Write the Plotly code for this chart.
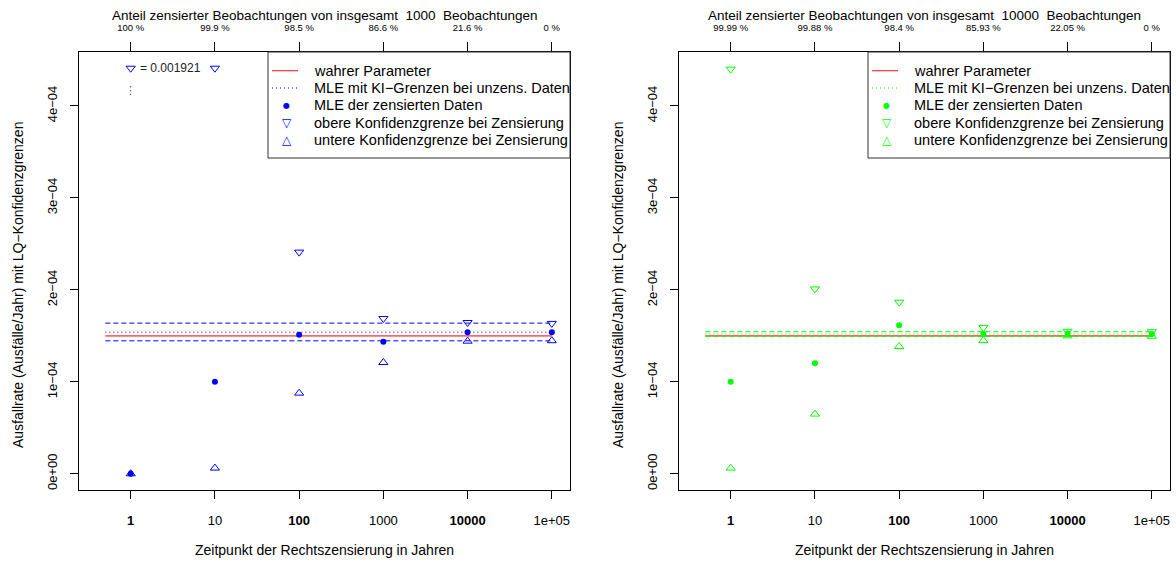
import math
import plotly.graph_objects as go

W, H = 1176, 563

# ---------------- data ----------------
zeitpunkte = [1, 10, 100, 1000, 10000, 100000]
x_ticktext = ["<b>1</b>", "10", "<b>100</b>", "1000", "<b>10000</b>", "1e+05"]
y_tickvals = [0, 1e-4, 2e-4, 3e-4, 4e-4]
y_ticktext = ["0e+00", "1e\u221204", "2e\u221204", "3e\u221204", "4e\u221204"]

n_beob = [1000, 10000]
anteil_1000 = ["100 %", "99.9 %", "98.5 %", "86.6 %", "21.6 %", "0 %"]
anteil_10000 = ["99.99 %", "99.88 %", "98.4 %", "85.93 %", "22.05 %", "0 %"]

mle_1000 = [0.0, 1.00e-4, 1.511e-4, 1.435e-4, 1.54e-4, 1.54e-4]
obere_1000 = [0.001921, 4.41e-4, 2.41e-4, 1.688e-4, 1.645e-4, 1.635e-4]
untere_1000 = [0.0, 6.2e-6, 0.877e-4, 1.21e-4, 1.442e-4, 1.447e-4]
ki_unzens_1000 = [1.446e-4, 1.54e-4, 1.638e-4]  # untere, MLE, obere

mle_10000 = [1.0e-4, 1.203e-4, 1.616e-4, 1.52e-4, 1.525e-4, 1.52e-4]
obere_10000 = [4.40e-4, 2.01e-4, 1.866e-4, 1.59e-4, 1.55e-4, 1.545e-4]
untere_10000 = [6.2e-6, 0.649e-4, 1.384e-4, 1.449e-4, 1.50e-4, 1.495e-4]
ki_unzens_10000 = [1.495e-4, 1.52e-4, 1.545e-4]

wahrer_parameter = 1.5e-4
linien_x = [0.5, 100000]
x_lim = [0.4, 100000]
y_lim = [0.0, 4.41e-4]

legend_texte = ["wahrer Parameter", "MLE mit KI\u2212Grenzen bei unzens. Daten",
                "MLE der zensierten Daten", "obere Konfidenzgrenze bei Zensierung",
                "untere Konfidenzgrenze bei Zensierung"]

# ---------------- styling / layout constants ----------------
farben = ["#0000FF", "#00FF00"]
FONT = "Liberation Sans, Arial, Helvetica, sans-serif"
plot_left = [79, 679]
plot_right = [570, 1170]
plot_top, plot_bottom = 52, 490
legend_left = [268, 868]
legend_bottom = 158

panels = [
    dict(anteil=anteil_1000, mle=mle_1000, obere=obere_1000, untere=untere_1000, ki=ki_unzens_1000),
    dict(anteil=anteil_10000, mle=mle_10000, obere=obere_10000, untere=untere_10000, ki=ki_unzens_10000),
]

lx0, lx1 = math.log10(x_lim[0]), math.log10(x_lim[1])
dx = 0.04 * (lx1 - lx0)
x_range = [lx0 - dx, lx1 + dx]
dy = 0.04 * (y_lim[1] - y_lim[0])
y_range = [y_lim[0] - dy, y_lim[1] + dy]


def px(p):
    return p / W


def py(p):
    return 1 - p / H


fig = go.Figure()
shapes = []
annotations = []
layout_axes = {}

for i, pdat in enumerate(panels):
    sfx = "" if i == 0 else "2"
    xa, ya = "x" + sfx, "y" + sfx
    xt = "x3" if i == 0 else "x4"
    col = farben[i]
    common = dict(xaxis=xa, yaxis=ya, showlegend=False, hoverinfo="skip")

    fig.add_trace(go.Scatter(x=linien_x, y=[wahrer_parameter] * 2, mode="lines",
                             line=dict(color="rgba(255,0,0,0.6)", width=1.8), **common))
    lo, mid, hi = pdat["ki"]
    fig.add_trace(go.Scatter(x=linien_x, y=[mid] * 2, mode="lines",
                             line=dict(color=col, width=1, dash="1px,3px"), **common))
    for v in (hi, lo):
        fig.add_trace(go.Scatter(x=linien_x, y=[v] * 2, mode="lines",
                                 line=dict(color=col, width=1, dash="5px,3px"), **common))

    fig.add_trace(go.Scatter(x=zeitpunkte, y=pdat["mle"], mode="markers",
                             marker=dict(symbol="circle", size=6, color=col), **common))
    obere_disp = [min(v, y_lim[1]) for v in pdat["obere"]]
    fig.add_trace(go.Scatter(x=zeitpunkte, y=obere_disp, mode="markers",
                             marker=dict(symbol="triangle-down-open", size=8, color=col,
                                         line=dict(color=col, width=1)), **common))
    fig.add_trace(go.Scatter(x=zeitpunkte, y=pdat["untere"], mode="markers",
                             marker=dict(symbol="triangle-up-open", size=8, color=col,
                                         line=dict(color=col, width=1)), **common))
    # invisible trace to activate the top axis
    fig.add_trace(go.Scatter(x=zeitpunkte, y=[y_lim[0]] * len(zeitpunkte), mode="markers",
                             marker=dict(opacity=0), xaxis=xt, yaxis=ya,
                             showlegend=False, hoverinfo="skip"))

    # off-scale value annotation
    for j, v in enumerate(pdat["obere"]):
        if v > y_lim[1]:
            annotations.append(dict(x=math.log10(zeitpunkte[j]), y=y_lim[1], xref=xa, yref=ya,
                                    text="= " + str(v), showarrow=False, xanchor="left",
                                    yanchor="middle", xshift=7,
                                    font=dict(family=FONT, size=12, color="#222")))
            annotations.append(dict(x=math.log10(zeitpunkte[j]), y=y_lim[1], xref=xa, yref=ya,
                                    text="\u22ee", showarrow=False, xanchor="center",
                                    yanchor="middle", yshift=-22,
                                    font=dict(family="DejaVu Sans", size=11, color="#555")))

    dom = [px(plot_left[i]), px(plot_right[i])]
    layout_axes["xaxis" + sfx] = dict(
        domain=dom, anchor=ya, type="log", range=x_range, tickmode="array",
        tickvals=zeitpunkte, ticktext=x_ticktext, showgrid=False, zeroline=False,
        showline=True, linecolor="black", linewidth=1, mirror=True,
        ticks="outside", ticklen=8, tickcolor="black", tickwidth=1,
        tickfont=dict(family=FONT, size=13, color="black"), ticklabelstandoff=10)
    layout_axes["xaxis" + ("3" if i == 0 else "4")] = dict(
        overlaying=xa, anchor=ya, side="top", type="log", range=x_range, tickmode="array",
        tickvals=zeitpunkte, ticktext=pdat["anteil"], showgrid=False, zeroline=False,
        showline=False, ticks="outside", ticklen=9, tickcolor="black", tickwidth=1,
        tickfont=dict(family=FONT, size=9.5, color="black"), ticklabelstandoff=7)
    layout_axes["yaxis" + sfx] = dict(
        domain=[py(plot_bottom), py(plot_top)], anchor=xa, range=y_range, tickmode="array",
        tickvals=y_tickvals, ticktext=y_ticktext, tickangle=-90, showgrid=False,
        zeroline=False, showline=True, linecolor="black", linewidth=1, mirror=True,
        ticks="outside", ticklen=8, tickcolor="black", tickwidth=1,
        tickfont=dict(family=FONT, size=13, color="black"), ticklabelstandoff=8)

    cx = (plot_left[i] + plot_right[i]) / 2
    annotations.append(dict(x=px(cx), y=py(550), xref="paper", yref="paper",
                            text="Zeitpunkt der Rechtszensierung in Jahren", showarrow=False,
                            xanchor="center", yanchor="middle",
                            font=dict(family=FONT, size=14, color="black")))
    annotations.append(dict(x=px(cx), y=py(16), xref="paper", yref="paper",
                            text="Anteil zensierter Beobachtungen von insgesamt\u00a0 %d\u00a0 Beobachtungen" % n_beob[i],
                            showarrow=False, xanchor="center", yanchor="middle",
                            font=dict(family=FONT, size=13.5, color="black")))
    annotations.append(dict(x=px(plot_left[i] - 61), y=py(285),
                            xref="paper", yref="paper",
                            text="Ausfallrate (Ausfälle/Jahr) mit LQ\u2212Konfidenzgrenzen",
                            showarrow=False, textangle=-90, xanchor="center", yanchor="middle",
                            font=dict(family=FONT, size=14, color="black")))

    # ---- legend (drawn manually, R style) ----
    L, R = legend_left[i], plot_right[i]
    shapes.append(dict(type="rect", xref="paper", yref="paper", x0=px(L), x1=px(R),
                       y0=py(legend_bottom), y1=py(plot_top), line=dict(color="#333", width=1),
                       fillcolor="white", layer="above"))
    rows = [70.7 + k * 17.3 for k in range(5)]
    shapes.append(dict(type="line", xref="paper", yref="paper", x0=px(L + 4), x1=px(L + 30),
                       y0=py(rows[0]), y1=py(rows[0]), line=dict(color="#FF3333", width=1.2),
                       layer="above"))
    shapes.append(dict(type="line", xref="paper", yref="paper", x0=px(L + 4), x1=px(L + 30),
                       y0=py(rows[1]), y1=py(rows[1]), line=dict(color=col, width=1, dash="1px,3px"),
                       layer="above"))
    symbols = [("\u25cf", 8, 0), ("\u25bd", 12, 0), ("\u25b3", 12, 0)]
    for k, (sym, sz, ysh) in enumerate(symbols):
        annotations.append(dict(x=px(L + 18.7), y=py(rows[k + 2]), xref="paper", yref="paper",
                                text=sym, showarrow=False, xanchor="center", yanchor="middle",
                                yshift=ysh, font=dict(family="DejaVu Sans", size=sz, color=col)))
    for k, t in enumerate(legend_texte):
        annotations.append(dict(x=px(L + 43.5), y=py(rows[k]), xref="paper", yref="paper",
                                text=t, showarrow=False, xanchor="left", yanchor="middle",
                                font=dict(family=FONT, size=14.5, color="black")))

fig.update_layout(
    width=W, height=H, margin=dict(l=0, r=0, t=0, b=0),
    paper_bgcolor="white", plot_bgcolor="white", showlegend=False,
    shapes=shapes, annotations=annotations, **layout_axes)

fig.write_html("out.html")
